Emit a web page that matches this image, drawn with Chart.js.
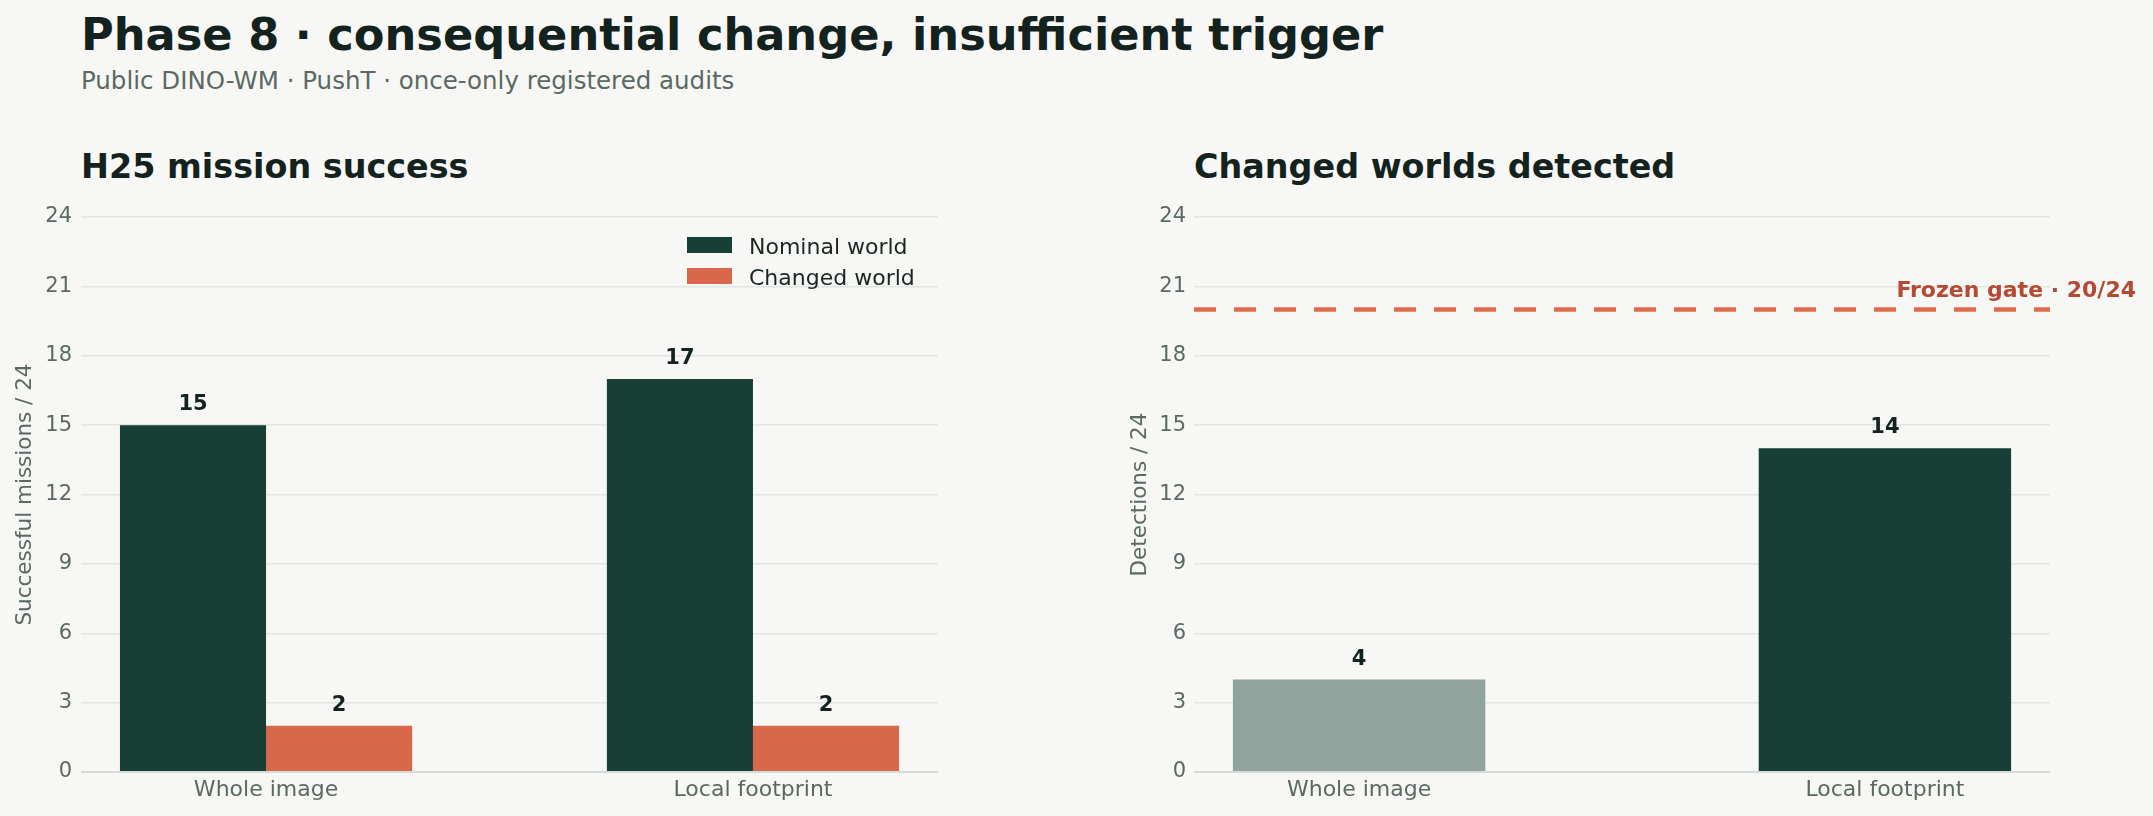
<!DOCTYPE html>
<html>
<head>
<meta charset="utf-8">
<script src="https://cdn.jsdelivr.net/npm/chart.js@4/dist/chart.umd.min.js"></script>
<style>
  body { margin:0; background:#f7f7f5; width:2153px; height:816px; position:relative; overflow:hidden; font-family:'DejaVu Sans', sans-serif; }
  .abs { position:absolute; line-height:1; white-space:nowrap; }
  .title { left:81px; top:13px; font-size:44.7px; font-weight:bold; color:#13221d; }
  .sub { left:81px; top:69px; font-size:24.5px; color:#5c6963; }
  .ptitle { top:150px; font-size:33.4px; font-weight:bold; color:#13221d; }
  .wrap { position:absolute; top:200px; height:616px; }
  .leg-box { position:absolute; width:45px; height:16px; }
  .leg-txt { position:absolute; font-size:22px; color:#1b2621; line-height:1; }
</style>
</head>
<body>
<div class="abs title">Phase 8 · consequential change, insufficient trigger</div>
<div class="abs sub">Public DINO-WM · PushT · once-only registered audits</div>
<div class="abs ptitle" style="left:81px">H25 mission success</div>
<div class="abs ptitle" style="left:1194px">Changed worlds detected</div>

<div class="wrap" style="left:0; width:1000px"><canvas id="c-success"></canvas></div>
<div class="wrap" style="left:1100px; width:1053px"><canvas id="c-detect"></canvas></div>

<div class="leg-box" style="left:687px; top:237px; background:#173f36"></div>
<div class="leg-txt" style="left:749px; top:236px">Nominal world</div>
<div class="leg-box" style="left:687px; top:268px; background:#d9684a"></div>
<div class="leg-txt" style="left:749px; top:267px">Changed world</div>

<script>
const categories     = ['Whole image', 'Local footprint'];
const nominalSuccess = [15, 17];
const changedSuccess = [2, 2];
const detections     = [4, 14];
const gateValue      = 20;
const gateLabel      = 'Frozen gate · 20/24';
const yMax = 24, yStep = 3;

const green = '#173f36', orange = '#d9684a', sage = '#8fa49c';
const ink = '#15231e', muted = '#5c6963';

Chart.defaults.font.family = "'DejaVu Sans', sans-serif";
Chart.defaults.color = muted;

const pts = arr => arr.map((v, i) => ({ x: i, y: v }));

// value labels above each bar
const valueLabels = {
  id: 'valueLabels',
  afterDatasetsDraw(chart) {
    const ctx = chart.ctx;
    ctx.save();
    ctx.font = "bold 21px 'DejaVu Sans'";
    ctx.fillStyle = ink;
    ctx.textAlign = 'center';
    ctx.textBaseline = 'alphabetic';
    chart.data.datasets.forEach((ds, di) => {
      chart.getDatasetMeta(di).data.forEach((bar, i) => {
        ctx.fillText(ds.data[i].y, bar.x, bar.y - 15);
      });
    });
    ctx.restore();
  }
};

// dashed gate line + label on the detection chart
const gateLine = {
  id: 'gateLine',
  afterDatasetsDraw(chart) {
    const { ctx, chartArea, scales } = chart;
    const y = scales.y.getPixelForValue(gateValue);
    ctx.save();
    ctx.strokeStyle = '#df6b4b';
    ctx.lineWidth = 4.5;
    ctx.setLineDash([22, 18]);
    ctx.beginPath();
    ctx.moveTo(chartArea.left, y);
    ctx.lineTo(chartArea.right, y);
    ctx.stroke();
    ctx.setLineDash([]);
    ctx.font = "bold 22px 'DejaVu Sans'";
    ctx.fillStyle = '#b34a33';
    ctx.textAlign = 'right';
    ctx.textBaseline = 'alphabetic';
    ctx.fillText(gateLabel, chartArea.right + 86, y - 13);
    ctx.restore();
  }
};

function scalesFor(xMin, xMax, yWidth, yTitle, titlePad, tickPad) {
  return {
    x: {
      type: 'linear', min: xMin, max: xMax, offset: false,
      afterBuildTicks: s => { s.ticks = categories.map((c, i) => ({ value: i })); },
      afterFit: s => { s.height = 44; },
      ticks: { callback: v => categories[v], autoSkip: false, maxRotation: 0, padding: 5, color: muted, font: { size: 22 } },
      grid: { display: false, drawTicks: false },
      border: { display: false }
    },
    y: {
      min: 0, max: yMax,
      // fixed axis width; drop the label overhang so the plot top follows layout padding
      afterFit: s => { s.width = yWidth; s.paddingTop = 0; s.paddingBottom = 0; },
      ticks: { stepSize: yStep, padding: tickPad, color: muted, font: { size: 21 } },
      grid: {
        drawTicks: false,
        color: c => c.tick.value === 0 ? '#d5dbd7' : '#e2e6e3',
        lineWidth: c => c.tick.value === 0 ? 2 : 1.5
      },
      border: { display: false },
      title: { display: true, text: yTitle, color: muted, font: { size: 21.5 }, padding: { top: titlePad, bottom: 0 } }
    }
  };
}

new Chart(document.getElementById('c-success'), {
  type: 'bar',
  data: {
    datasets: [
      { label: 'Nominal world', data: pts(nominalSuccess), backgroundColor: green, borderWidth: 0, categoryPercentage: 0.6, barPercentage: 1 },
      { label: 'Changed world', data: pts(changedSuccess), backgroundColor: orange, borderWidth: 0, categoryPercentage: 0.6, barPercentage: 1 }
    ]
  },
  options: {
    responsive: true, maintainAspectRatio: false, animation: false, devicePixelRatio: 1,
    layout: { padding: { left: 0, right: 62, top: 17, bottom: 0 } },
    plugins: { legend: { display: false }, tooltip: { enabled: false } },
    scales: scalesFor(-0.38, 1.38, 81, 'Successful missions / 24', 13, 9)
  },
  plugins: [valueLabels]
});

new Chart(document.getElementById('c-detect'), {
  type: 'bar',
  data: {
    datasets: [
      { label: 'Detections', data: pts(detections), backgroundColor: [sage, green], borderWidth: 0, categoryPercentage: 0.48, barPercentage: 1 }
    ]
  },
  options: {
    responsive: true, maintainAspectRatio: false, animation: false, devicePixelRatio: 1,
    layout: { padding: { left: 0, right: 103, top: 17, bottom: 0 } },
    plugins: { legend: { display: false }, tooltip: { enabled: false } },
    scales: scalesFor(-0.314, 1.314, 94, 'Detections / 24', 28, 8)
  },
  plugins: [valueLabels, gateLine]
});
</script>
</body>
</html>
